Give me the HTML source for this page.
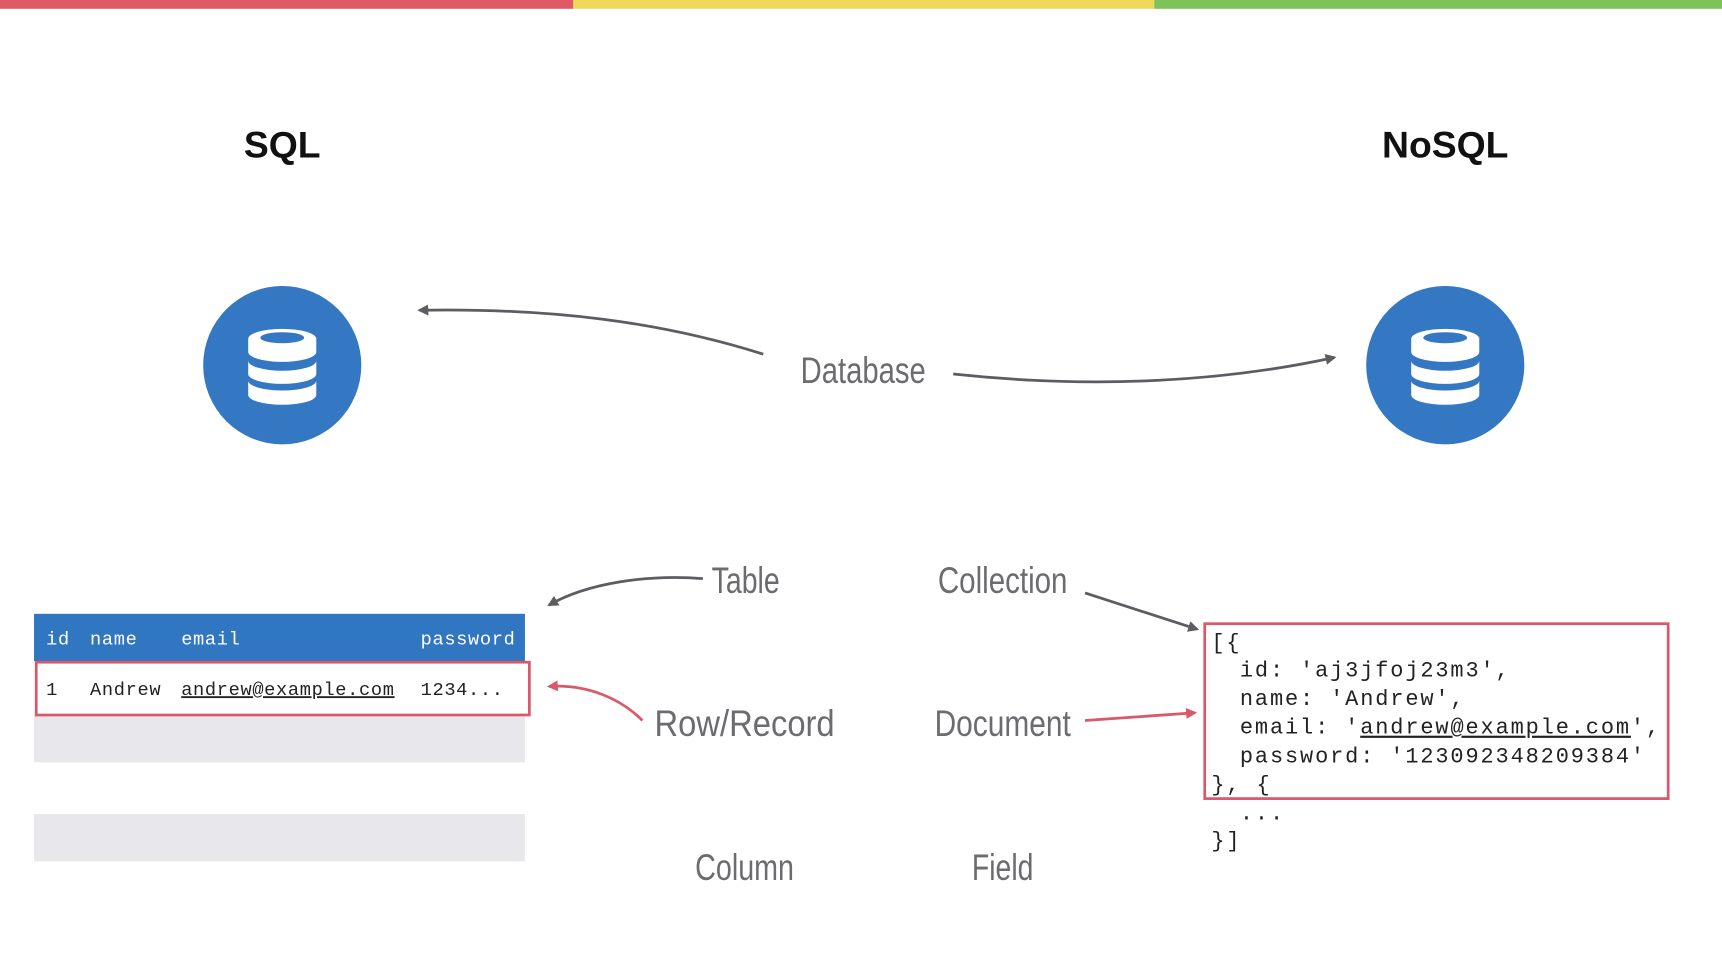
<!DOCTYPE html>
<html><head><meta charset="utf-8"><style>
html,body{margin:0;padding:0;background:#fff;}
svg{display:block;}
.h{font-family:"Liberation Sans",sans-serif;font-weight:300;fill:#6b6b70;font-size:34px;}
.m{font-family:"Liberation Mono","DejaVu Sans Mono",monospace;}
</style></head><body>
<svg width="1722" height="968" viewBox="0 0 1568 880" preserveAspectRatio="none" xmlns="http://www.w3.org/2000/svg">
<defs>
<marker id="ag" markerWidth="10" markerHeight="10" refX="8" refY="5" orient="auto" markerUnits="userSpaceOnUse"><path d="M0,0 L10,5 L0,10 z" fill="#5c5c62"/></marker>
<marker id="ar" markerWidth="10" markerHeight="10" refX="8" refY="5" orient="auto" markerUnits="userSpaceOnUse"><path d="M0,0 L10,5 L0,10 z" fill="#d9596a"/></marker>
<g id="db">
<circle r="72" fill="#3477c2"/>
<path d="M-31,-24 A31,9 0 0 1 31,-24 V-12 A31,9 0 0 1 -31,-12 Z" fill="#fff"/>
<ellipse cx="0" cy="-25" rx="20" ry="5" fill="#3477c2"/>
<path d="M-31,-4 A31,9 0 0 0 31,-4 V8 A31,9 0 0 1 -31,8 Z" fill="#fff"/>
<path d="M-31,14 A31,9 0 0 0 31,14 V27 A31,9 0 0 1 -31,27 Z" fill="#fff"/>
</g>
</defs>
<rect x="0" y="0" width="522" height="8" fill="#e05a66"/>
<rect x="522" y="0" width="529" height="8" fill="#efd95a"/>
<rect x="1051" y="0" width="517" height="8" fill="#7dc35a"/>

<text x="257" y="143" text-anchor="middle" font-family="Liberation Sans,sans-serif" font-weight="bold" font-size="34" fill="#111">SQL</text>
<text x="1316" y="143" text-anchor="middle" font-family="Liberation Sans,sans-serif" font-weight="bold" font-size="34" fill="#111">NoSQL</text>

<use href="#db" x="257" y="332"/>
<use href="#db" x="1316" y="332"/>

<text class="h" x="786" y="348" text-anchor="middle" textLength="114" lengthAdjust="spacingAndGlyphs">Database</text>
<path d="M695,322 C600,292 500,280 382,282" fill="none" stroke="#5c5c62" stroke-width="2.5" marker-end="url(#ag)"/>
<path d="M868,340 C980,352 1100,350 1215,325" fill="none" stroke="#5c5c62" stroke-width="2.5" marker-end="url(#ag)"/>

<text class="h" x="679" y="539" text-anchor="middle" textLength="62" lengthAdjust="spacingAndGlyphs">Table</text>
<path d="M640,526 C590,522 535,530 500,550" fill="none" stroke="#5c5c62" stroke-width="2.5" marker-end="url(#ag)"/>
<text class="h" x="913" y="539" text-anchor="middle" textLength="118" lengthAdjust="spacingAndGlyphs">Collection</text>
<path d="M988,539 L1090,572" fill="none" stroke="#5c5c62" stroke-width="2.5" marker-end="url(#ag)"/>

<text class="h" x="678" y="669" text-anchor="middle" textLength="164" lengthAdjust="spacingAndGlyphs">Row/Record</text>
<path d="M585,655 C565,635 535,622 500,624" fill="none" stroke="#d9596a" stroke-width="2.5" marker-end="url(#ar)"/>
<text class="h" x="913" y="669" text-anchor="middle" textLength="124" lengthAdjust="spacingAndGlyphs">Document</text>
<path d="M988,655 L1088,648" fill="none" stroke="#d9596a" stroke-width="2.5" marker-end="url(#ar)"/>

<text class="h" x="678" y="800" text-anchor="middle" textLength="90" lengthAdjust="spacingAndGlyphs">Column</text>
<text class="h" x="913" y="800" text-anchor="middle" textLength="56" lengthAdjust="spacingAndGlyphs">Field</text>

<rect x="31" y="558" width="447" height="43" fill="#3176c0"/>
<g class="m" font-size="17" fill="#fff" letter-spacing="0.6">
<text x="42" y="586">id</text><text x="82" y="586">name</text><text x="165" y="586">email</text><text x="383" y="586">password</text>
</g>
<rect x="31" y="650" width="447" height="43" fill="#e8e8ec"/>
<rect x="31" y="740" width="447" height="43" fill="#e8e8ec"/>
<rect x="33" y="602" width="449" height="48" fill="#fff" stroke="#d9596a" stroke-width="2.5"/>
<g class="m" font-size="17" fill="#222" letter-spacing="0.6">
<text x="42" y="632">1</text><text x="82" y="632">Andrew</text><text x="165" y="632" text-decoration="underline">andrew@example.com</text><text x="383" y="632">1234...</text>
</g>

<rect x="1097" y="567" width="422" height="159" fill="none" stroke="#d9596a" stroke-width="2.5"/>
<g class="m" font-size="20" fill="#222" letter-spacing="1.7">
<text x="1103" y="590">[{</text>
<text x="1129" y="615">id: 'aj3jfoj23m3',</text>
<text x="1129" y="641">name: 'Andrew',</text>
<text x="1129" y="667">email: '<tspan text-decoration="underline">andrew@example.com</tspan>',</text>
<text x="1129" y="693">password: '123092348209384'</text>
<text x="1103" y="719">}, {</text>
<text x="1129" y="745">...</text>
<text x="1103" y="770">}]</text>
</g>
</svg>
</body></html>
